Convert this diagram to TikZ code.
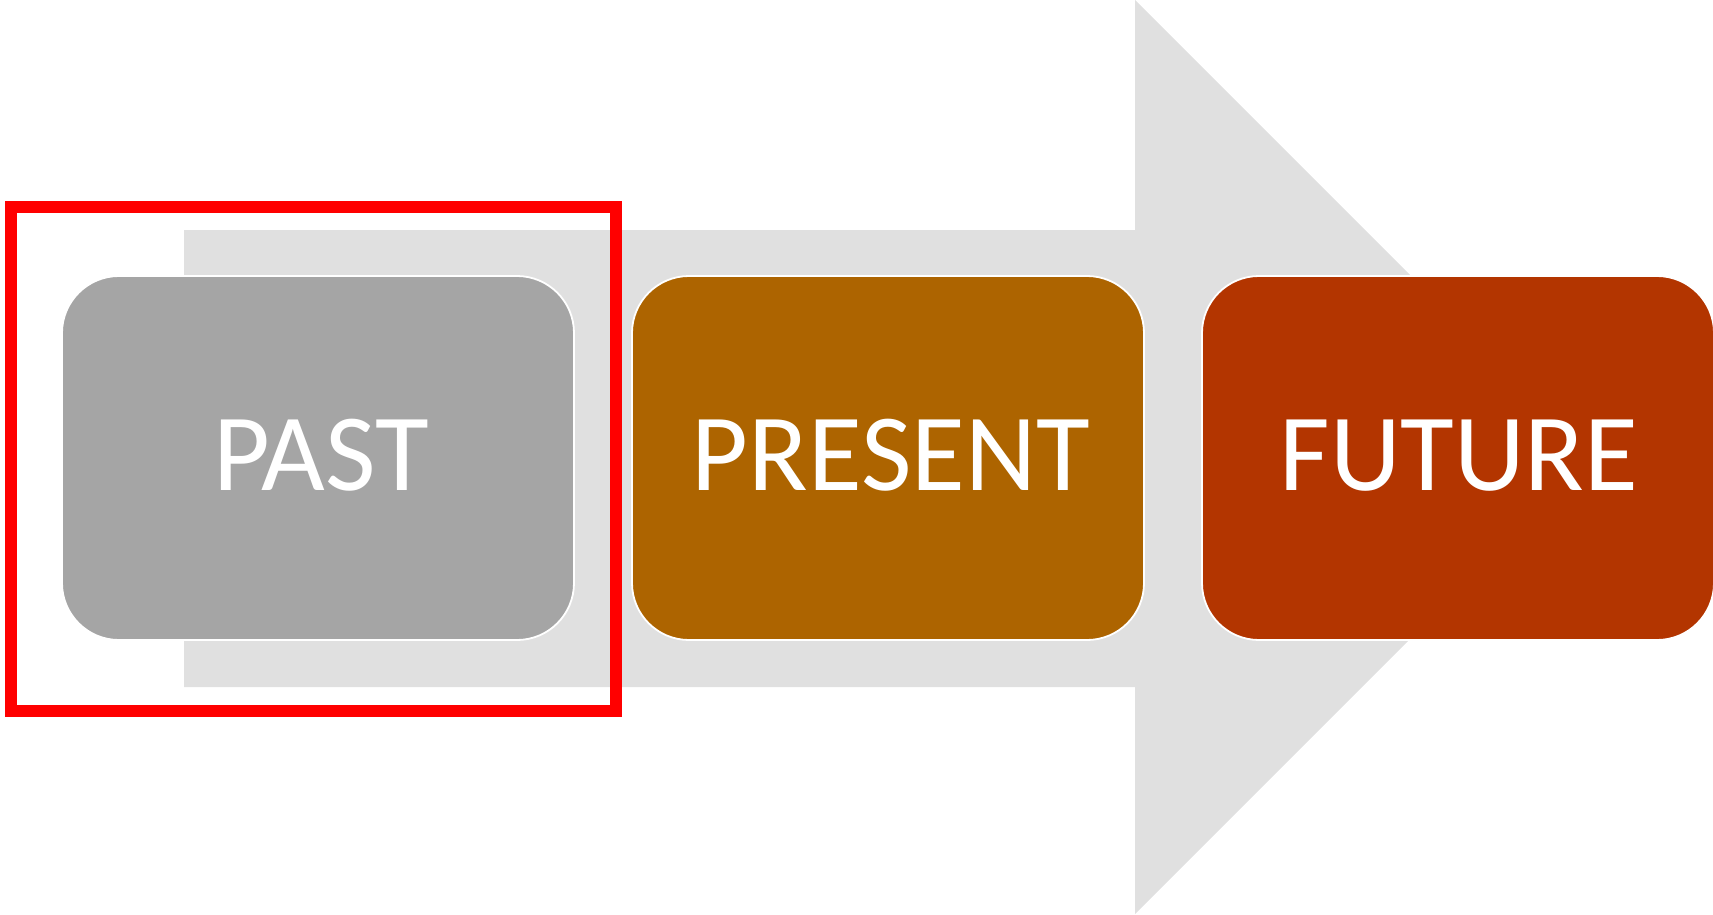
\documentclass[tikz,border=0pt]{standalone}
\usepackage{fontspec}
\setmainfont{Carlito}
\definecolor{arrowgray}{HTML}{E0E0E0}
\definecolor{pastgray}{HTML}{A5A5A5}
\definecolor{presentbrown}{HTML}{AD6400}
\definecolor{futurered}{HTML}{B33500}
\definecolor{markred}{HTML}{FF0000}
\tikzset{
  stagebox/.style={rectangle, rounded corners=57pt, draw=white, line width=1.8pt,
    minimum width=512pt, minimum height=364pt, inner sep=0pt},
  stagelabel/.style={anchor=base, text=white, inner sep=0pt,
    font=\fontsize{110}{120}\selectfont},
  bigarrow/.style={fill=arrowgray, draw=none},
  markbox/.style={draw=markred, line width=12pt}
}
\begin{document}
\begin{tikzpicture}[x=1pt,y=-1pt]
\useasboundingbox (0,0) rectangle (1713,914);
% background arrow
\fill[bigarrow] (184,230) -- (1135,230) -- (1135,0) -- (1592,457) -- (1135,914) -- (1135,687) -- (184,687) -- cycle;
% stage boxes
\node[stagebox, fill=pastgray] (past) at (318,458) {};
\node[stagebox, fill=presentbrown] (present) at (888,458) {};
\node[stagebox, fill=futurered] (future) at (1458,458) {};
% labels
\node[stagelabel] (pastlabel) at (321,490) {PAST};
\node[stagelabel] (presentlabel) at (891,490) {PRESENT};
\node[stagelabel] (futurelabel) at (1459,490) {FUTURE};
% red highlight frame
\draw[markbox] (10.5,207) rectangle (615.5,711);
\end{tikzpicture}
\end{document}
